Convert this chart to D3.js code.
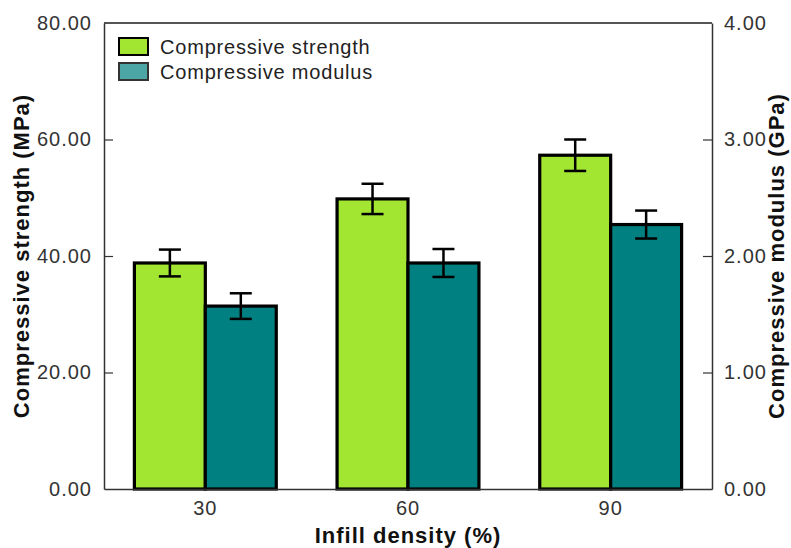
<!DOCTYPE html>
<html>
<head>
<meta charset="utf-8">
<script src="https://cdn.jsdelivr.net/npm/d3@7"></script>
<style>
  body { margin: 0; background: #fff; }
  svg { display: block; font-family: "Liberation Sans", Arial, sans-serif; }
</style>
</head>
<body>
<div id="chart"></div>
<script>
const categories = ['30', '60', '90'];
const strength = [38.8, 49.8, 57.3];      // MPa
const strengthErr = [2.3, 2.6, 2.7];
const modulus = [1.57, 1.94, 2.27];       // GPa
const modulusErr = [0.11, 0.12, 0.12];
const leftTicks = [0, 20, 40, 60, 80];
const rightTicks = [0, 1, 2, 3, 4];

const w = 791, h = 548;
const m = { top: 23, right: 79, bottom: 59, left: 104 };
const iw = w - m.left - m.right,
      ih = h - m.top - m.bottom;

const green = '#a2e632', teal = '#008080';

const svg = d3.select('#chart').append('svg')
  .attr('width', w)
  .attr('height', h);

const g = svg.append('g').attr('transform', `translate(${m.left},${m.top})`);

const x0 = d3.scaleBand().domain(categories).range([0, iw])
  .paddingInner(0.3).paddingOuter(0.15);
const x1 = d3.scaleBand().domain(['s', 'm']).range([0, x0.bandwidth()]);
const yL = d3.scaleLinear().domain([0, 80]).range([ih, 0]);
const yR = d3.scaleLinear().domain([0, 4]).range([ih, 0]);

// bars
const groups = g.selectAll('.grp').data(categories).enter().append('g')
  .attr('transform', d => `translate(${x0(d)},0)`);

groups.append('rect')
  .attr('x', x1('s'))
  .attr('y', (d, i) => yL(strength[i]))
  .attr('width', x1.bandwidth())
  .attr('height', (d, i) => ih - yL(strength[i]))
  .attr('fill', green).attr('stroke', '#000').attr('stroke-width', 3.2);

groups.append('rect')
  .attr('x', x1('m'))
  .attr('y', (d, i) => yR(modulus[i]))
  .attr('width', x1.bandwidth())
  .attr('height', (d, i) => ih - yR(modulus[i]))
  .attr('fill', teal).attr('stroke', '#000').attr('stroke-width', 3.2);

// error bars
function errBar(sel, cx, yTop, yBot) {
  const cap = 11;
  sel.append('line').attr('x1', cx).attr('x2', cx).attr('y1', yTop).attr('y2', yBot);
  sel.append('line').attr('x1', cx - cap).attr('x2', cx + cap).attr('y1', yTop).attr('y2', yTop);
  sel.append('line').attr('x1', cx - cap).attr('x2', cx + cap).attr('y1', yBot).attr('y2', yBot);
}
groups.each(function(d, i) {
  const sel = d3.select(this).append('g').attr('stroke', '#000').attr('stroke-width', 2.5);
  errBar(sel, x1('s') + x1.bandwidth() / 2, yL(strength[i] + strengthErr[i]), yL(strength[i] - strengthErr[i]));
  errBar(sel, x1('m') + x1.bandwidth() / 2, yR(modulus[i] + modulusErr[i]), yR(modulus[i] - modulusErr[i]));
});

// frame
g.append('line').attr('x1', 0).attr('x2', iw).attr('y1', 0).attr('y2', 0)
  .attr('stroke', '#555').attr('stroke-width', 2);

// axes
const axL = g.append('g')
  .call(d3.axisLeft(yL).tickValues(leftTicks).tickFormat(d3.format('.2f')).tickSizeInner(-9).tickSizeOuter(0).tickPadding(12));
const axR = g.append('g').attr('transform', `translate(${iw},0)`)
  .call(d3.axisRight(yR).tickValues(rightTicks).tickFormat(d3.format('.2f')).tickSizeInner(-9).tickSizeOuter(0).tickPadding(12));
const axB = g.append('g').attr('transform', `translate(0,${ih})`)
  .call(d3.axisBottom(x0).tickSize(0).tickPadding(12));

[axL, axR, axB].forEach(a => {
  a.select('.domain').attr('stroke', '#333').attr('stroke-width', 1.5);
  a.selectAll('.tick line').attr('stroke', '#333').attr('stroke-width', 1.2);
  a.selectAll('.tick text').attr('fill', '#333').style('font-size', '20px')
    .style('letter-spacing', '1px')
    .style('font-family', '"Liberation Sans", Arial, sans-serif');
});
axL.selectAll('.tick').filter(d => d === 80 || d === 0).select('line').remove();
axR.selectAll('.tick').filter(d => d === 4 || d === 0).select('line').remove();

// axis titles
const titleStyle = sel => sel.style('font-size', '22px').style('font-weight', 'bold')
  .style('letter-spacing', '1px').attr('fill', '#111');
svg.append('text')
  .attr('transform', `translate(21,${m.top + ih / 2}) rotate(-90)`)
  .attr('text-anchor', 'middle').attr('dy', '0.35em')
  .call(titleStyle)
  .text('Compressive strength (MPa)');
svg.append('text')
  .attr('transform', `translate(776,${m.top + ih / 2}) rotate(-90)`)
  .attr('text-anchor', 'middle').attr('dy', '0.35em')
  .call(titleStyle)
  .text('Compressive modulus (GPa)');
svg.append('text')
  .attr('x', m.left + iw / 2).attr('y', 543)
  .attr('text-anchor', 'middle')
  .call(titleStyle)
  .text('Infill density (%)');

// legend
const legendItems = [
  { label: 'Compressive strength', fill: green, stroke: '#000' },
  { label: 'Compressive modulus', fill: '#4ca6a6', stroke: '#333' }
];
const lg = svg.append('g').attr('transform', 'translate(119,38)');
legendItems.forEach((d, i) => {
  const row = lg.append('g').attr('transform', `translate(0,${i * 25})`);
  row.append('rect').attr('width', 29).attr('height', 17)
    .attr('fill', d.fill).attr('stroke', d.stroke).attr('stroke-width', 2);
  row.append('text').attr('x', 41).attr('y', 9).attr('dy', '0.35em')
    .style('font-size', '20px').style('letter-spacing', '0.8px')
    .attr('fill', '#222').text(d.label);
});
</script>
</body>
</html>
